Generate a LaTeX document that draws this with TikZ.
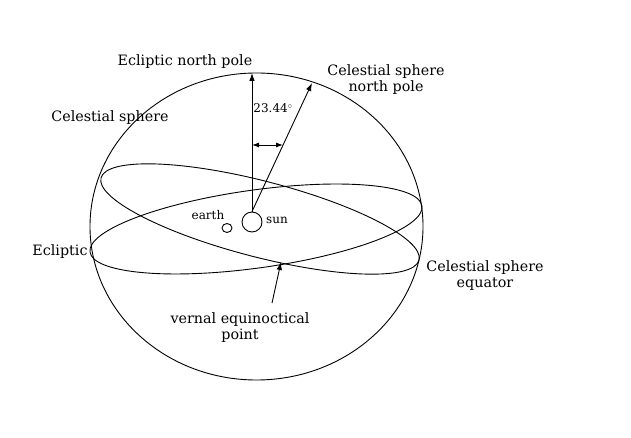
\documentclass[tikz,border=0pt]{standalone}
\usepackage{fontspec}
\setmainfont{DejaVu Serif}
\usetikzlibrary{arrows.meta,shapes.geometric}
\tikzset{
  ln/.style={line width=0.9pt, black},
  arr/.style={ln, -{Latex[length=8pt,width=5.5pt]}},
  darr/.style={ln, {Latex[length=7pt,width=5pt]}-{Latex[length=7pt,width=5pt]}},
  lbl/.style={font=\fontsize{14.3}{16}\selectfont, align=center, inner sep=0pt},
  slbl/.style={font=\fontsize{12}{14}\selectfont, align=center, inner sep=0pt}
}
\begin{document}
\begin{tikzpicture}[x=1pt,y=1pt]
\path[use as bounding box, fill=white] (0,0) rectangle (631,438);
% celestial sphere
\draw[ln] (256.5,211.5) ellipse [x radius=166.5, y radius=153.5];
% ecliptic
\draw[ln, rotate around={7.9:(256,209)}] (256,209) ellipse [x radius=167.6, y radius=39];
% celestial equator
\draw[ln, rotate around={-14.5:(260,219)}] (260,219) ellipse [x radius=164.2, y radius=38];
% sun and earth
\node[ln, draw, circle, minimum size=20pt, inner sep=0pt] (sun) at (252,216) {};
\node[ln, draw, ellipse, minimum width=10pt, minimum height=9pt, inner sep=0pt] (earth) at (227,210) {};
\coordinate (enp) at (252,365);
\coordinate (cnp) at (312,355);
\coordinate (da) at (252,293);
\coordinate (db) at (283,293);
\coordinate (vp) at (281,176);
\coordinate (vt) at (272,135);
\draw[arr] (sun.north) -- (enp);
\draw[arr] (sun.north) -- (cnp);
\draw[darr] (da) -- (db);
\draw[arr] (vt) -- (vp);
% labels
\node[lbl] (l1) at (185,376) {Ecliptic north pole};
\node[lbl] (l2) at (386,358) {Celestial sphere\\north pole};
\node[lbl] (l3) at (110,320) {Celestial sphere};
\node[slbl] (l4) at (273,330) {23.44$^{\circ}$};
\node[slbl] (l5) at (208,223) {earth};
\node[slbl] (l6) at (277,218) {sun};
\node[lbl] (l7) at (60,186) {Ecliptic};
\node[lbl] (l8) at (485,162) {Celestial sphere\\equator};
\node[lbl] (l9) at (240,110) {vernal equinoctical\\point};
\end{tikzpicture}
\end{document}
